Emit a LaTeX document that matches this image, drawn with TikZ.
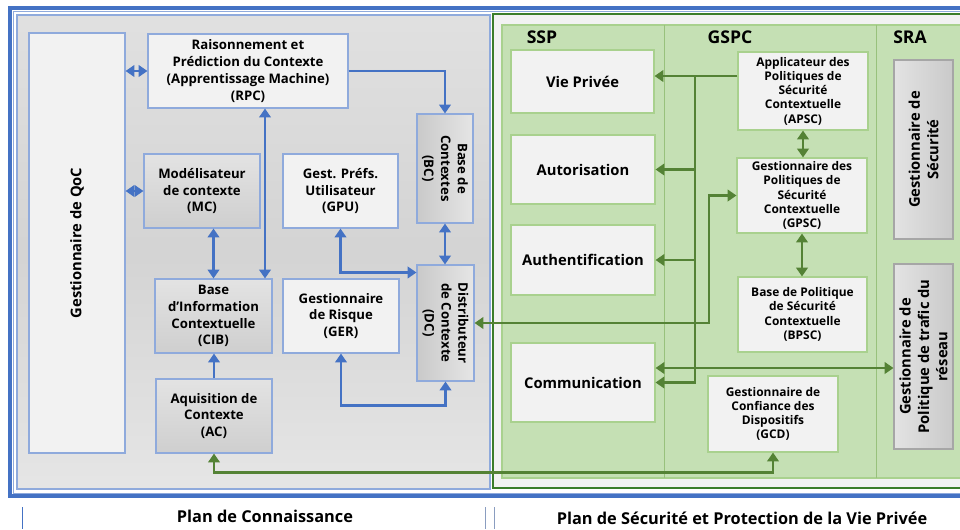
\documentclass[tikz,border=0pt]{standalone}
\usepackage{fontspec}
\setmainfont{Open Sans}
\usetikzlibrary{arrows.meta,calc}
\definecolor{bleu}{HTML}{4472C4}
\definecolor{cadre}{HTML}{8FAADC}
\definecolor{fondb}{HTML}{F2F2F2}
\definecolor{vertl}{HTML}{548235}
\definecolor{vertc}{HTML}{C5E0B4}
\definecolor{cadrev}{HTML}{A9D18E}
\definecolor{vertf}{HTML}{3B7D2A}
\definecolor{grisc}{HTML}{A6A6A6}

\tikzset{
  sz/.style 2 args={minimum width=#1*0.02cm, minimum height=#2*0.02cm},
  txt/.style={font=\bfseries\fontsize{7.5}{9.6}\selectfont, align=center, inner sep=0pt},
  petit/.style={font=\bfseries\fontsize{6.8}{8.1}\selectfont},
  moyen/.style={font=\bfseries\fontsize{8.4}{10.5}\selectfont},
  bbox/.style={txt, draw=cadre, line width=0.6pt, fill=fondb},
  gbox/.style={txt, draw=cadre, line width=0.6pt, top color=gray!22, bottom color=gray!38},
  gboxh/.style={txt, draw=cadre, line width=0.6pt, left color=gray!42, right color=gray!20},
  vbox/.style={txt, draw=cadrev, line width=0.6pt, fill=fondb},
  sbox/.style={txt, draw=grisc, line width=0.6pt, left color=gray!22, right color=gray!42},
  lienb/.style={draw=bleu, line width=1.4pt, >={Triangle[length=5pt,width=6.5pt]}},
  lienv/.style={draw=vertl, line width=1.4pt, >={Triangle[length=5pt,width=6.5pt]}}
}

\begin{document}
\begin{tikzpicture}[x=0.02cm, y=-0.02cm]
  \useasboundingbox (0,0) rectangle (960,529);
  \clip (0,0) rectangle (960,529);
  \fill[white] (0,0) rectangle (960,529);

  \draw[bleu, line width=1.8pt] (10,8) rectangle (980,496);
  \draw[cadre, line width=0.4pt] (13,11) rectangle (980,493);
  \draw[cadre, line width=0.6pt, top color=gray!24, bottom color=gray!20, middle color=gray!34] (17,15) rectangle (490,489);
  \draw[vertf, line width=0.9pt, fill=fondb] (493,14) rectangle (980,488);
  \draw[cadrev, line width=0.6pt, fill=vertc] (502,25) rectangle (980,478);
  \draw[cadrev!80!vertl, line width=0.5pt] (664,25) -- (664,478);
  \draw[cadrev!80!vertl, line width=0.5pt] (876,25) -- (876,478);

  \node[bbox, sz={96}{420}] (qoc) at (77,243) {};
  \node[txt, moyen, rotate=90] (qoctxt) at (qoc) {Gestionnaire de QoC};
  \node[bbox, sz={200}{74}] (rpc) at (248,71) {Raisonnement et\\Prédiction du Contexte\\(Apprentissage Machine)\\(RPC)};
  \node[gbox, sz={116}{74}] (mc) at (202,191) {Modélisateur\\de contexte\\(MC)};
  \node[bbox, sz={115}{74}] (gpu) at (340.5,191) {Gest. Préfs.\\Utilisateur\\(GPU)};
  \node[gboxh, sz={56}{109}] (bc) at (445,168.5) {};
  \node[txt, rotate=-90] (bctxt) at (bc) {Base de\\Contextes\\(BC)};
  \node[gbox, sz={117}{74}] (cib) at (213.5,316) {Base\\d’Information\\Contextuelle\\(CIB)};
  \node[bbox, sz={116}{74}] (ger) at (341,316) {Gestionnaire\\de Risque\\(GER)};
  \node[gboxh, sz={57}{116}] (dc) at (445.5,323) {};
  \node[txt, rotate=-90] (dctxt) at (dc) {Distributeur\\de Contexte\\(DC)};
  \node[gbox, sz={116}{74}] (ac) at (214,416) {Aquisition de\\Contexte\\(AC)};

  \node[txt, font=\bfseries\fontsize{10}{12}\selectfont] (hssp) at (542,37) {SSP};
  \node[txt, font=\bfseries\fontsize{10}{12}\selectfont] (hgspc) at (730,37) {GSPC};
  \node[txt, font=\bfseries\fontsize{10}{12}\selectfont] (hsra) at (910,37) {SRA};

  \node[vbox, moyen, sz={143}{63}] (vp) at (582.5,81.5) {Vie Privée};
  \node[vbox, moyen, sz={144}{69}] (auto) at (583,169.5) {Autorisation};
  \node[vbox, moyen, sz={144}{70}] (authn) at (583,260) {Authentification};
  \node[vbox, moyen, sz={144}{79}] (comm) at (583,382.5) {Communication};
  \node[vbox, petit, sz={130}{78}] (apsc) at (803,91) {Applicateur des\\Politiques de\\Sécurité\\Contextuelle\\(APSC)};
  \node[vbox, petit, sz={130}{75}] (gpsc) at (802,195.5) {Gestionnaire des\\Politiques de\\Sécurité\\Contextuelle\\(GPSC)};
  \node[vbox, petit, sz={129}{75}] (bpsc) at (802.5,314.5) {Base de Politique\\de Sécurité\\Contextuelle\\(BPSC)};
  \node[vbox, petit, sz={130}{76}] (gcd) at (773,414) {Gestionnaire de\\Confiance des\\Dispositifs\\(GCD)};
  \node[sbox, sz={59}{179}] (gsec) at (923.5,149.5) {};
  \node[txt, moyen, rotate=90] (gsectxt) at (gsec) {Gestionnaire de\\Sécurité};
  \node[sbox, sz={59}{185}] (gptr) at (923.5,356.5) {};
  \node[txt, moyen, rotate=90] (gptrtxt) at (gptr) {Gestionnaire de\\Politique de trafic du\\réseau};

  \coordinate (xr) at (265,0);
  \coordinate (xt) at (695,0);
  \coordinate (xg) at (709,0);

  \draw[lienb,<->] (qoc.east |- rpc.west) -- (rpc.west);
  \draw[lienb,<->] (qoc.east |- mc.west) -- (mc.west);
  \draw[lienb,->] (rpc.east) -| (bc.north);
  \draw[lienb,<->] (xr |- rpc.south) -- (xr |- cib.north);
  \draw[lienb,<->] (mc.south -| cib.north) -- (cib.north);
  \draw[lienb,<->] (gpu.south) |- ([yshift=-0.16cm]dc.north west);
  \draw[lienb,<->] (bc.south) -- (bc.south |- dc.north);
  \draw[lienb,<->] (ger.south) -- ++(0,52) -| (dc.south);
  \draw[lienb,->] (ac.north) -- (ac.north |- cib.south);

  \draw[lienv,->] ([yshift=0.3cm]apsc.west) coordinate (ap) -- (ap -| vp.east);
  \draw[lienv,->] (ap -| xt) -- (xt |- comm.east) -- (comm.east);
  \draw[lienv,->] (xt |- auto.east) -- (auto.east);
  \draw[lienv,->] (xt |- authn.east) -- (authn.east);
  \draw[lienv,<->] (dc.east) -| (xg |- gpsc.west) -- (gpsc.west);
  \draw[lienv,<->] (apsc.south) -- (apsc.south |- gpsc.north);
  \draw[lienv,<->] (gpsc.south) -- (gpsc.south |- bpsc.north);
  \draw[lienv,<->] ([yshift=0.29cm]comm.east) coordinate (cm) -- (cm -| gptr.west);
  \draw[lienv,<->] (ac.south) -- ++(0,19) -| (gcd.south);

  \draw[bleu, line width=0.5pt] (22,507) -- (22,529);
  \draw[cadre!70!gray, line width=0.5pt] (485,507) -- (485,529);
  \draw[cadre!70!gray, line width=0.5pt] (494,507) -- (494,529);
  \node[txt, font=\bfseries\fontsize{9.3}{11}\selectfont] (pc) at (265,516) {Plan de Connaissance};
  \node[txt, font=\bfseries\fontsize{9.3}{11}\selectfont] (psp) at (742,518) {Plan de Sécurité et Protection de la Vie Privée};
\end{tikzpicture}
\end{document}
